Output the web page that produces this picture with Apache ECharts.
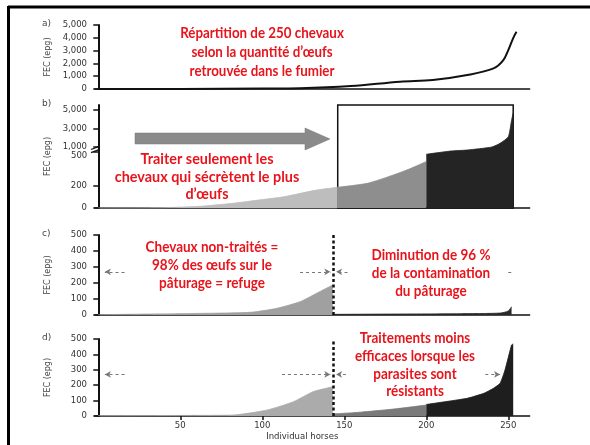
<!DOCTYPE html>
<html><head><meta charset="utf-8">
<script src="https://cdn.jsdelivr.net/npm/echarts@6/dist/echarts.min.js"></script>
<style>html,body{margin:0;padding:0;background:#fff}#c{width:590px;height:445px}</style>
</head><body><div id="c"></div>
<script>
// ---------- data ----------
const panelLabels = ['a)', 'b)', 'c)', 'd)'];
const yName = 'FEC (epg)';
const xName = 'Individual horses';
const xTicks = [50, 100, 150, 200, 250];
const aTicks = [0, 1000, 2000, 3000, 4000, 5000];
const bTicks = [0, 200, 500, 1000, 3000, 5000];
const bLowerLabel = 500;   // label just under the axis break
const cdTicks = [0, 100, 200, 300, 400, 500];

// a) FEC of 250 horses sorted
const aCurve = [[0,0],[50,8],[100,35],[123,60],[154,230],[184,570],[204,700],[225,1090],[241,1610],[247,2260],[250,3040],[253,3980],[255,4470]];
// b) treat only the top shedders
const bLight = [[0,0],[40,3],[62,15],[82,42],[100,75],[113,100],[133,160],[146,185]];
const bMid = [[146,185],[164,220],[180,295],[190,350],[200,415]];
const bDark = [[200,480],[215,600],[225,700],[240,1000],[245,1400],[250,2100],[252,3900],[253,4700]];
// c) untreated refuge vs treated
const cGrey = [[0,2],[62,10],[93,17],[109,42],[123,83],[133,135],[143,188]];
const cDark = [[143,4],[180,6],[220,8],[245,12],[250,25],[252,52]];
// d) resistant parasites
const dGrey = [[0,2],[60,4],[82,6],[103,39],[119,93],[131,158],[143,190]];
const dMid = [[143,13],[160,25],[180,45],[200,71]];
const dDark = [[200,75],[225,115],[235,147],[241,180],[245,212],[248,299],[252,461],[253,468]];

const treatCut = 143;
const boxRange = [146, 253];
const refugeLevel = 270;

const notes = [
  {text: 'Répartition de 250 chevaux\nselon la quantité d’œufs\nretrouvée dans le fumier', x: 262, y: 52, lh: 19, sx: 0.89},
  {text: 'Traiter seulement les\nchevaux qui sécrètent le plus\nd’œufs', x: 207, y: 177, lh: 17.5, sx: 0.96},
  {text: 'Chevaux non-traités =\n98% des œufs sur le\npâturage = refuge', x: 212, y: 265, lh: 18, sx: 0.9},
  {text: 'Diminution de 96 %\nde la contamination\ndu pâturage', x: 431, y: 273, lh: 18, sx: 0.9},
  {text: 'Traitements moins\nefficaces lorsque les\nparasites sont\nrésistants', x: 415, y: 365, lh: 17.7, sx: 0.9}
];

// ---------- helpers ----------
function brk(v) { // broken axis for panel b
  if (v <= 500) return v;
  if (v <= 1000) return 500 + (v - 500) * 0.09;
  return 545 + (v - 1000) * 0.0825;
}
const bMax = 920;
const fmt = v => Math.round(v).toLocaleString('en-US');
function bLabel(v) {
  let best = 0;
  bTicks.forEach((t, k) => { if (Math.abs(brk(t) - v) < Math.abs(brk(bTicks[best]) - v)) best = k; });
  return fmt(bTicks[best]);
}

const GL = 95, GW = 434.6;
const grids = [
  {left: GL, width: GW, top: 25, height: 64},
  {left: GL, width: GW, top: 105, height: 103},
  {left: GL, width: GW, top: 235, height: 80},
  {left: GL, width: GW, top: 339, height: 77}
];
const FF = '"DejaVu Sans"';
const labelStyle = {fontFamily: 'DejaVu Sans', fontSize: 8.5, color: '#333'};

const xAxes = grids.map((g, i) => ({
  type: 'value', gridIndex: i, min: -2, max: 263,
  splitLine: {show: false},
  axisLine: {show: true, onZero: false, lineStyle: {color: '#111', width: 1.5}},
  axisTick: i === 3 ? {show: true, customValues: xTicks, length: 4, lineStyle: {color: '#111', width: 1.5}} : {show: false},
  axisLabel: i === 3 ? Object.assign({show: true, customValues: xTicks, margin: 5}, labelStyle) : {show: false},
  name: i === 3 ? xName : '', nameLocation: 'middle', nameGap: 16,
  nameTextStyle: {fontFamily: 'DejaVu Sans', fontSize: 8.5, color: '#333', padding: [0, 20, 0, 0]}
}));

function yAxis(i, max, tickVals, labelVals, labelFn) {
  return {
    type: 'value', gridIndex: i, min: 0, max: max,
    splitLine: {show: false},
    axisLine: {show: true, lineStyle: {color: '#111', width: 2}},
    axisTick: {show: true, customValues: tickVals, length: 5, lineStyle: {color: '#111', width: 1.5}},
    axisLabel: Object.assign({show: true, customValues: labelVals, margin: 8, hideOverlap: false, formatter: labelFn}, labelStyle),
    name: yName, nameLocation: 'middle', nameGap: 43, nameRotate: 90,
    nameTextStyle: {fontFamily: 'DejaVu Sans', fontSize: 8, color: '#444'}
  };
}
const yAxes = [
  yAxis(0, 5000, aTicks, aTicks, fmt),
  yAxis(1, bMax, bTicks.map(brk), bTicks.filter(t => t !== bLowerLabel).map(brk), bLabel),
  yAxis(2, 500, cdTicks, cdTicks, fmt),
  yAxis(3, 500, cdTicks, cdTicks, fmt)
];

function area(idx, data, color, extra) {
  return Object.assign({
    type: 'line', xAxisIndex: idx, yAxisIndex: idx, data: data,
    showSymbol: false, symbol: 'none', smooth: 0.2,
    lineStyle: {color: color, width: 0.8}, areaStyle: {color: color, opacity: 1},
    silent: true, animation: false
  }, extra || {});
}
const dashGrey = {type: [3, 3], color: '#777', width: 1};
function hArrow(from, to) {
  return [{coord: [from, refugeLevel], symbol: 'none', lineStyle: dashGrey}, {coord: [to, refugeLevel], symbol: 'arrow', symbolSize: [5, 6]}];
}
const cutStyle = {type: [3, 2.5], color: '#111', width: 2.5};
const bT = arr => arr.map(p => [p[0], brk(p[1])]);

const series = [
  {type: 'line', xAxisIndex: 0, yAxisIndex: 0, data: aCurve, smooth: 0.35, showSymbol: false, symbol: 'none',
   lineStyle: {color: '#111', width: 2}, silent: true, animation: false},
  area(1, bT(bLight), '#bdbdbd'),
  area(1, bT(bMid), '#8e8e8e', {markArea: {silent: true, itemStyle: {color: 'rgba(0,0,0,0)', borderColor: '#111', borderWidth: 1.5},
    data: [[{xAxis: boxRange[0], yAxis: 0}, {xAxis: boxRange[1], yAxis: bMax}]]}}),
  area(1, bT(bDark), '#242424'),
  area(2, cGrey, '#a0a0a0'),
  area(2, cDark, '#2a2a2a', {markLine: {silent: true, animation: false, symbol: ['none', 'none'], label: {show: false},
    data: [
      {xAxis: treatCut, lineStyle: cutStyle},
      hArrow(16, 4),
      hArrow(123, 141.5),
      hArrow(152, 145),
      [{coord: [250, refugeLevel], symbol: 'none', lineStyle: dashGrey}, {coord: [252, refugeLevel], symbol: 'none'}]
    ]}}),
  area(3, dGrey, '#ababab'),
  area(3, dMid, '#7a7a7a'),
  area(3, dDark, '#1e1e1e', {smooth: 0.15, markLine: {silent: true, animation: false, symbol: ['none', 'none'], label: {show: false},
    data: [
      {xAxis: treatCut, lineStyle: cutStyle},
      hArrow(16, 4),
      hArrow(112, 141.5),
      hArrow(151, 145),
      hArrow(236, 245)
    ]}})
];

// ---------- graphics ----------
const red = '#e8141c';
const graphic = [];
graphic.push({type: 'line', shape: {x1: 8, y1: 7, x2: 590, y2: 7}, style: {stroke: '#000', lineWidth: 3}, z: 100});
graphic.push({type: 'line', shape: {x1: 8.5, y1: 6, x2: 8.5, y2: 445}, style: {stroke: '#000', lineWidth: 3}, z: 100});
grids.forEach((g, i) => graphic.push({type: 'text', x: 42, y: g.top - 6, style: {text: panelLabels[i], font: '9px ' + FF, fill: '#444'}}));
graphic.push({type: 'polygon', shape: {points: [[135,133],[305,133],[305,128],[330,139],[305,150],[305,144],[135,144]]},
  style: {fill: '#8a8a8a', stroke: '#777', lineWidth: 0.5}, z: 50});
const gb = grids[1];
const yOf = d => gb.top + gb.height * (1 - d / bMax);
const y1k = yOf(brk(1000)), y500 = yOf(brk(500));
graphic.push({type: 'rect', shape: {x: GL - 3, y: y1k + 1, width: 6, height: y500 - y1k - 2}, style: {fill: '#fff'}, z: 60});
[y1k + 1, y500 - 1].forEach(yy => graphic.push({type: 'line', shape: {x1: GL - 4, y1: yy + 1.5, x2: GL + 4, y2: yy - 1.5}, style: {stroke: '#111', lineWidth: 1.3}, z: 61}));
// label just under the break, drawn on its own layer
graphic.push({type: 'text', id: 'lbl500', zlevel: 1, z: 200, left: GL - 8 - 16, top: y500 - 1,
  style: {text: fmt(bLowerLabel), font: '8.5px ' + FF, fill: '#333'}});
notes.forEach(n => graphic.push({type: 'text', x: n.x, y: n.y, z: 80, scaleX: n.sx,
  style: {text: n.text, font: 'bold 15px Lato', fill: red, align: 'center', verticalAlign: 'middle', lineHeight: n.lh}}));

const chart = echarts.init(document.getElementById('c'), null, {renderer: 'canvas'});
chart.setOption({
  animation: false,
  backgroundColor: '#fff',
  grid: grids,
  xAxis: xAxes,
  yAxis: yAxes,
  series: series,
  graphic: graphic
});
</script></body></html>
